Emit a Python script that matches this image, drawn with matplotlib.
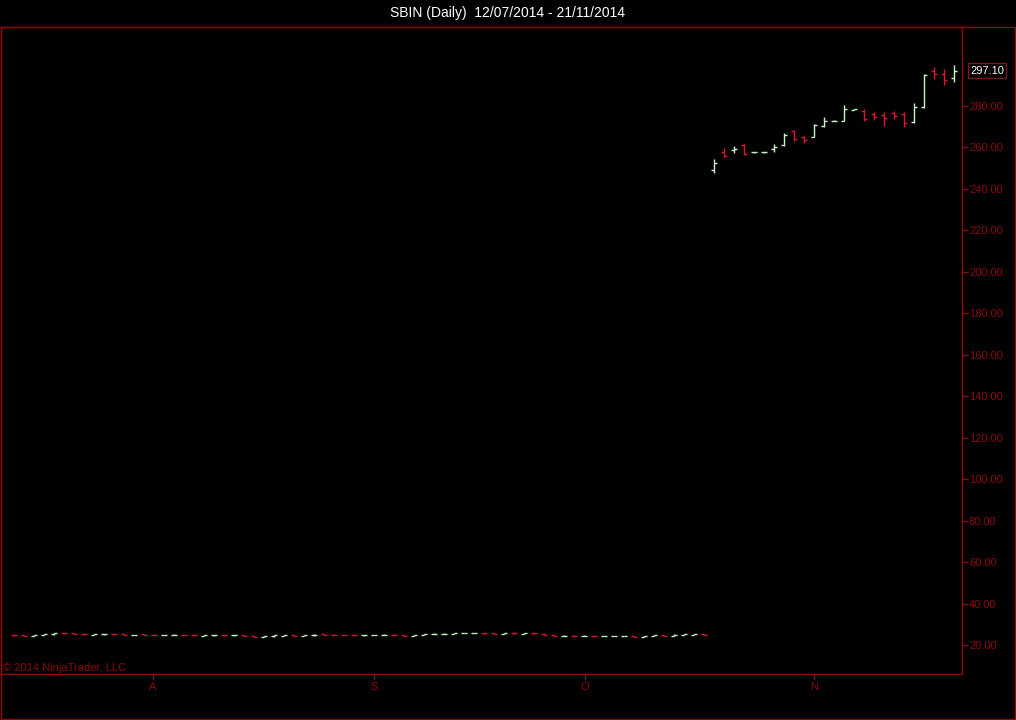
import numpy as np
import matplotlib
matplotlib.use('Agg')
import matplotlib.pyplot as plt
from matplotlib.patches import Rectangle

plt.rcParams['font.family'] = ['Liberation Sans', 'DejaVu Sans']

# OHLC data, one entry per trading bar (12/07/2014 - 21/11/2014)
opens = [24.9, 24.6, 24.3, 24.7, 25.1, 25.8, 25.6, 25.3, 25.0, 25.1,
         25.3, 25.1, 24.7, 25.1, 25.0, 24.8, 24.8, 24.9, 24.8, 24.5,
         24.6, 24.7, 24.6, 24.7, 24.3, 24.0, 24.1, 24.5, 24.6, 24.4,
         24.6, 25.1, 25.0, 24.9, 24.8, 24.6, 24.7, 24.8, 25.0, 24.8,
         24.5, 24.9, 25.3, 25.4, 25.5, 25.7, 25.8, 25.9, 25.6, 25.4,
         25.8, 25.5, 25.9, 25.5, 24.9, 24.3, 24.5, 24.3, 24.5, 24.3,
         24.3, 24.3, 24.4, 23.9, 24.3, 24.7, 24.5, 25.0, 25.0, 25.1,
         249.1, 258.0, 258.8, 261.2, 257.6, 257.6, 259.3, 261.2, 268.0, 264.9,
         265.2, 270.4, 272.7, 272.8, 278.3, 277.7, 276.1, 275.6, 276.5, 276.1,
         272.4, 279.6, 296.8, 295.5, 293.3]
highs = [25.0, 24.7, 24.8, 25.3, 25.9, 25.9, 25.7, 25.4, 25.4, 25.4,
         25.5, 25.2, 24.9, 25.2, 25.1, 25.0, 25.1, 25.0, 24.9, 24.7,
         24.8, 24.8, 24.8, 24.7, 24.4, 24.2, 24.7, 24.8, 24.7, 24.7,
         25.1, 25.2, 25.1, 25.0, 24.9, 24.8, 25.0, 25.1, 25.1, 24.9,
         25.0, 25.4, 25.6, 25.6, 25.8, 26.0, 26.0, 26.0, 25.7, 25.8,
         25.9, 25.9, 26.0, 25.6, 25.0, 24.7, 24.6, 24.6, 24.6, 24.5,
         24.5, 24.5, 24.5, 24.4, 24.7, 24.8, 25.1, 25.2, 25.2, 25.2,
         254.3, 259.6, 260.7, 261.5, 257.9, 257.9, 261.5, 266.8, 268.4, 265.5,
         271.3, 274.9, 273.0, 280.7, 278.6, 278.7, 277.1, 277.1, 277.7, 277.1,
         281.2, 295.5, 298.8, 297.9, 299.6]
lows = [24.5, 24.2, 24.2, 24.6, 25.0, 25.5, 25.2, 25.0, 24.9, 25.0,
        25.0, 24.7, 24.6, 24.9, 24.7, 24.7, 24.7, 24.7, 24.5, 24.4,
        24.5, 24.5, 24.5, 24.2, 23.9, 23.9, 24.0, 24.4, 24.3, 24.3,
        24.5, 24.9, 24.7, 24.7, 24.5, 24.5, 24.6, 24.7, 24.7, 24.4,
        24.4, 24.8, 25.2, 25.3, 25.4, 25.6, 25.7, 25.5, 25.3, 25.3,
        25.5, 25.4, 25.5, 24.8, 24.2, 24.1, 24.2, 24.2, 24.2, 24.2,
        24.2, 24.2, 23.9, 23.8, 24.2, 24.4, 24.4, 24.9, 24.9, 24.8,
        247.5, 255.3, 257.2, 256.5, 257.5, 257.5, 258.0, 260.9, 263.3, 262.3,
        264.9, 269.8, 272.6, 272.8, 278.2, 272.9, 273.3, 270.4, 273.7, 269.7,
        272.0, 279.1, 292.8, 290.1, 291.4]
closes = [24.6, 24.3, 24.7, 25.2, 25.8, 25.6, 25.3, 25.1, 25.2, 25.3,
          25.1, 24.8, 24.8, 25.0, 24.8, 24.9, 24.9, 24.8, 24.6, 24.6,
          24.7, 24.6, 24.7, 24.3, 24.0, 24.1, 24.6, 24.6, 24.4, 24.6,
          24.9, 25.0, 24.8, 24.8, 24.6, 24.7, 24.9, 25.0, 24.8, 24.5,
          24.9, 25.3, 25.5, 25.5, 25.7, 25.9, 25.9, 25.6, 25.4, 25.7,
          25.6, 25.8, 25.6, 24.9, 24.3, 24.4, 24.3, 24.4, 24.3, 24.4,
          24.4, 24.4, 24.0, 24.3, 24.6, 24.5, 25.0, 25.1, 25.1, 24.9,
          252.4, 255.9, 259.4, 256.9, 257.7, 257.7, 260.1, 266.0, 263.9, 263.6,
          270.8, 272.8, 272.8, 278.4, 278.4, 273.9, 274.9, 274.0, 275.2, 272.0,
          279.4, 295.0, 295.5, 292.4, 297.1]

month_labels = ['A', 'S', 'O', 'N']
month_bars = [13.9, 36, 57.1, 80]   # bar index where each month starts
price_ticks = list(range(20, 300, 20))
last_price = 297.10

title = 'SBIN (Daily)  12/07/2014 - 21/11/2014'

up_color = '#c8f5cc'
down_color = '#e0142a'
frame_color = '#8b0a0a'

W, H = 1016, 720
fig = plt.figure(figsize=(W / 100, H / 100), dpi=100, facecolor='black')

# outer frame below the title
fig.add_artist(Rectangle((0.5 / W, 1.5 / H), (W - 1.5) / W, (H - 28.5) / H,
                         transform=fig.transFigure, fill=False,
                         edgecolor=frame_color, lw=1.0))
fig.text(0.5, 1 - 13.5 / H, title, color='white', fontsize=10,
         ha='center', va='center')

ax = fig.add_axes([1 / W, 46 / H, 961 / W, 647 / H])
ax.set_facecolor('black')

x = np.arange(len(closes))
colors = [up_color if c >= o else down_color for o, c in zip(opens, closes)]
tick_w = 0.32
ax.vlines(x, lows, highs, colors=colors, lw=1.0)
ax.hlines(opens, x - tick_w, x, colors=colors, lw=1.0)
ax.hlines(closes, x, x + tick_w, colors=colors, lw=1.0)

ax.set_xlim(-1.3, 94.8)
ax.set_ylim(6.0, 318.1)

for s in ax.spines.values():
    s.set_color(frame_color)
    s.set_linewidth(1.0)

ax.yaxis.tick_right()
ax.set_yticks(price_ticks)
ax.set_yticklabels([f'{v:.2f}' for v in price_ticks])
ax.tick_params(axis='y', colors=frame_color, labelcolor=frame_color,
               labelsize=8, length=4, width=1, pad=1)
ax.set_xticks(month_bars)
ax.set_xticklabels(month_labels)
ax.tick_params(axis='x', colors=frame_color, labelcolor=frame_color,
               labelsize=8, length=4, width=1, pad=2)

# last price marker on the price axis
ax.annotate(f'{last_price:.2f}', xy=(1.0, last_price),
            xycoords=('axes fraction', 'data'),
            xytext=(6, 0), textcoords='offset points',
            color='white', fontsize=8, ha='left', va='center',
            bbox=dict(boxstyle='square,pad=0.2', fc='black',
                      ec='#7a1a1a', lw=1.0),
            annotation_clip=False)

ax.text(0.002, 0.002, '\u00a9 2014 NinjaTrader, LLC', transform=ax.transAxes,
        color=frame_color, fontsize=8, ha='left', va='bottom')

fig.savefig('out.png', dpi=100, facecolor='black')
